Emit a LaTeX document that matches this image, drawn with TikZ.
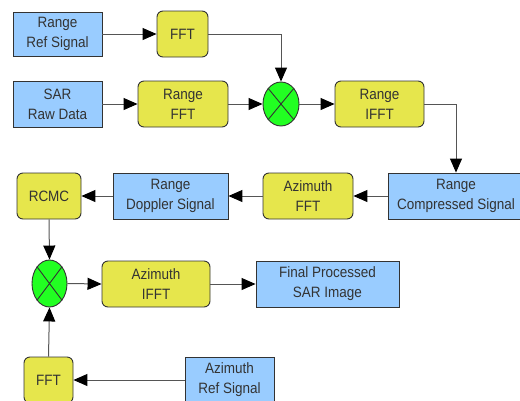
\documentclass[tikz,border=0pt]{standalone}
\usepackage{fontspec}
\setmainfont{Liberation Sans}[FakeStretch=0.9]
\usetikzlibrary{shapes.geometric,arrows.meta}
\definecolor{bluebox}{RGB}{153,204,255}
\definecolor{yelbox}{RGB}{230,230,76}
\definecolor{mixg}{RGB}{34,255,34}
\definecolor{edgec}{RGB}{51,51,51}
\definecolor{txtc}{RGB}{51,51,51}
\definecolor{linec}{RGB}{85,85,85}
\tikzset{
  base/.style={draw=edgec, line width=0.9pt, inner sep=0pt, align=center, text=txtc,
    font=\fontsize{15}{20}\selectfont},
  bluebx/.style={base, rectangle, fill=bluebox},
  yelbx/.style={base, rectangle, rounded corners=6pt, fill=yelbox},
  mixer/.style={draw=edgec, line width=0.9pt, ellipse, fill=mixg, inner sep=0pt},
  conn/.style={draw=linec, line width=1pt, -{Triangle[length=14pt,width=12pt,fill=black,color=black]}},
}
\begin{document}
\begin{tikzpicture}[x=1pt,y=-1pt]
\useasboundingbox (0,0) rectangle (520,400);
\clip (0,0) rectangle (520,400);
\node[bluebx, minimum width=89pt, minimum height=44pt] (rrs) at (57.5,34) {Range\\Ref Signal};
\node[yelbx, minimum width=51pt, minimum height=46pt] (fft1) at (182.5,34) {FFT};
\node[bluebx, minimum width=89pt, minimum height=46pt] (sar) at (57.5,104) {SAR\\Raw Data};
\node[yelbx, minimum width=90pt, minimum height=46pt] (rfft) at (183,104) {Range\\FFT};
\node[mixer, minimum width=36pt, minimum height=44pt] (mix1) at (281,104) {};
\node[yelbx, minimum width=89pt, minimum height=46pt] (rifft) at (379.5,104) {Range\\IFFT};
\node[bluebx, minimum width=136pt, minimum height=46pt] (rcs) at (456,196) {Range\\Compressed Signal};
\node[yelbx, minimum width=90pt, minimum height=46pt] (afft) at (308,196) {Azimuth\\FFT};
\node[bluebx, minimum width=115pt, minimum height=46pt] (rds) at (170.5,196) {Range\\Doppler Signal};
\node[yelbx, minimum width=64pt, minimum height=46pt] (rcmc) at (49,196) {RCMC};
\node[mixer, minimum width=35pt, minimum height=47pt] (mix2) at (49.5,283.5) {};
\node[yelbx, minimum width=108pt, minimum height=46pt] (aifft) at (156,284) {Azimuth\\IFFT};
\node[bluebx, minimum width=143pt, minimum height=46pt] (final) at (327.5,284) {Final Processed\\SAR Image};
\node[yelbx, minimum width=49pt, minimum height=46pt] (fft2) at (48.5,380) {FFT};
\node[bluebx, minimum width=89pt, minimum height=46pt] (ars) at (229.5,380) {Azimuth\\Ref Signal};
% crosses
\draw[edgec, line width=0.9pt] (mix1.north west) -- (mix1.south east) (mix1.north east) -- (mix1.south west);
\draw[edgec, line width=0.9pt] (mix2.north west) -- (mix2.south east) (mix2.north east) -- (mix2.south west);
% connectors
\draw[conn] (rrs.east) -- (fft1.west);
\draw[conn] (sar.east) -- (rfft.west);
\draw[conn] (rfft.east) -- (mix1.west);
\draw[conn] (fft1.east) -| (mix1.north);
\draw[conn] (mix1.east) -- (rifft.west);
\draw[conn] (rifft.east) -| (rcs.north);
\draw[conn] (rcs.west) -- (afft.east);
\draw[conn] (afft.west) -- (rds.east);
\draw[conn] (rds.west) -- (rcmc.east);
\draw[conn] (rcmc.south) -- (mix2.north);
\draw[conn] (mix2.east) -- (aifft.west);
\draw[conn] (aifft.east) -- (final.west);
\draw[conn] (ars.west) -- (fft2.east);
\draw[conn] (fft2.north) -- (mix2.south);
\end{tikzpicture}
\end{document}
